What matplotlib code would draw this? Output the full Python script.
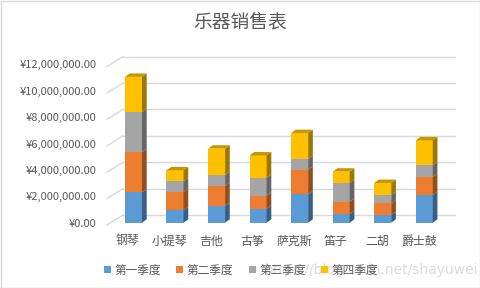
import matplotlib
matplotlib.use('Agg')
import matplotlib.pyplot as plt
from matplotlib.patches import Polygon, Rectangle, Patch
from matplotlib.transforms import IdentityTransform, ScaledTranslation
from matplotlib.lines import Line2D
import matplotlib.colors as mcolors
import numpy as np

plt.rcParams['font.family'] = ['Noto Sans CJK SC', 'DejaVu Sans']

title = '乐器销售表'
categories = ['钢琴', '小提琴', '吉他', '古筝', '萨克斯', '笛子', '二胡', '爵士鼓']
series_names = ['第一季度', '第二季度', '第三季度', '第四季度']
q1 = [2300000, 940000, 1270000, 1060000, 2150000, 660000, 580000, 2100000]
q2 = [3050000, 1390000, 1520000, 980000, 1860000, 930000, 890000, 1360000]
q3 = [3050000, 810000, 830000, 1360000, 830000, 1420000, 630000, 890000]
q4 = [2650000, 830000, 1990000, 1700000, 1950000, 860000, 910000, 1890000]
yticks = [0, 2000000, 4000000, 6000000, 8000000, 10000000, 12000000]
colors = ['#5B9BD5', '#ED7D31', '#A5A5A5', '#FFC000']
watermark = 'https://blog.csdn.net/shayuwei'

TXT = '#595959'
GRID = '#D9D9D9'

fig = plt.figure(figsize=(4.8, 2.88), dpi=100)
W, H = 480, 288
ax = fig.add_axes([112.7 / W, (H - 222.7) / H, 332.3 / W, 158.4 / H])
ax.set_xlim(-0.5, 7.5)
ax.set_ylim(0, 12000000)
ax.set_autoscale_on(False)
for s in ax.spines.values():
    s.set_visible(False)
ax.set_facecolor('none')

def shade(c, f):
    r, g, b = mcolors.to_rgb(c)
    return (r * f, g * f, b * f)

# back wall gridlines + floor diagonals
BX, BY = 10.3, 7.6     # back offset (px)
FX, FY = -5.7, -2.3    # front offset (px)
for v in yticks:
    xl, yv = ax.transData.transform((-0.5, v))
    xr, _ = ax.transData.transform((7.5, v))
    ax.add_line(Line2D([xl + BX, xr + BX], [yv + BY, yv + BY], transform=IdentityTransform(),
                       color=GRID, lw=1.0, zorder=0.5, clip_on=False))
    ax.add_line(Line2D([xl + FX, xl + BX], [yv + FY, yv + BY], transform=IdentityTransform(),
                       color=GRID, lw=1.0, zorder=0.5, clip_on=False))

# stacked bars
x = np.arange(len(categories))
series = [q1, q2, q3, q4]
bottom = np.zeros(len(categories))
containers = []
for vals, c, name in zip(series, colors, series_names):
    bc = ax.bar(x, vals, width=0.41, bottom=bottom, color=c, label=name, zorder=2, linewidth=0)
    containers.append(bc)
    bottom = bottom + np.array(vals)

DX, DY = 4.7, 3.4
for si, bc in enumerate(containers):
    c = colors[si]
    for p in bc.patches:
        x0, y0 = p.get_x(), p.get_y()
        x1, y1 = x0 + p.get_width(), y0 + p.get_height()
        X0, Y0 = ax.transData.transform((x0, y0))
        X1, Y1 = ax.transData.transform((x1, y1))
        side = Polygon([(X1, Y0), (X1 + DX, Y0 + DY), (X1 + DX, Y1 + DY), (X1, Y1)],
                       closed=True, transform=IdentityTransform(), facecolor=shade(c, 0.62),
                       edgecolor='none', zorder=2.1, clip_on=False)
        ax.add_artist(side)
        if si == len(containers) - 1:
            top = Polygon([(X0, Y1), (X1, Y1), (X1 + DX, Y1 + DY), (X0 + DX, Y1 + DY)],
                          closed=True, transform=IdentityTransform(), facecolor=shade(c, 0.78),
                          edgecolor='none', zorder=2.1, clip_on=False)
            ax.add_artist(top)

# ticks
ax.set_yticks(yticks)
ax.set_yticklabels(['¥{:,.2f}'.format(v) for v in yticks])
ax.set_xticks(x)
ax.set_xticklabels(categories)
ax.tick_params(axis='y', length=0, pad=11.5, labelsize=8, labelcolor=TXT)
ax.tick_params(axis='x', length=0, pad=8.5, labelsize=8.6, labelcolor=TXT)
off = ScaledTranslation(-5.7 / 100, 0, fig.dpi_scale_trans)
for lab in ax.get_xticklabels():
    lab.set_transform(lab.get_transform() + off)

fig.text(0.5, (H - 22) / H, title, ha='center', va='center', fontsize=13.5, color=TXT)

handles = [Patch(facecolor=c, edgecolor='none') for c in colors]
fig.legend(handles, series_names, loc='center', bbox_to_anchor=(241 / W, (H - 270) / H),
           ncol=4, frameon=False, fontsize=8.4, labelcolor=TXT, handlelength=0.6,
           handleheight=0.6, handletextpad=0.3, columnspacing=1.3, borderpad=0)

fig.text(478 / W, (H - 270) / H, watermark, ha='right', va='center', fontsize=10,
         color='#BFBFBF', alpha=0.55, family='DejaVu Sans')

fig.add_artist(Rectangle((0.5 / W, 0.5 / H), 1 - 1 / W, 1 - 1 / H, transform=fig.transFigure,
                         facecolor='none', edgecolor=GRID, lw=1.0))

fig.savefig('out.png', dpi=100)
